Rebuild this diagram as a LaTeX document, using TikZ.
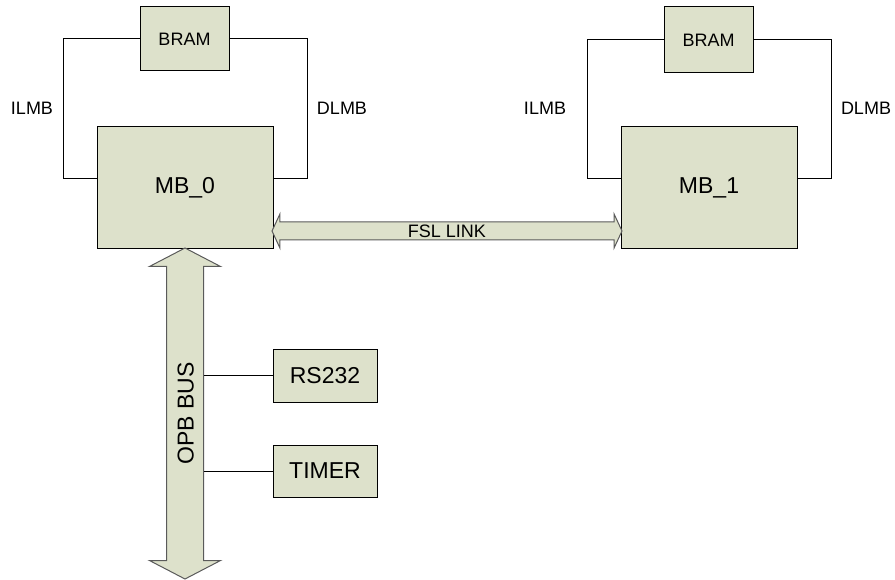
\documentclass[tikz,border=0pt]{standalone}
\usepackage{fontspec}
\setmainfont{Liberation Sans}
\usetikzlibrary{positioning,calc,shapes.arrows}
\definecolor{boxfill}{HTML}{DDE1CB}
\definecolor{busline}{HTML}{5A5A5A}
\tikzset{
    block/.style={
        draw, fill=boxfill, line width=1pt, inner sep=0pt,
        font=\fontsize{23}{27}\selectfont
    },
    smallblock/.style={
        block, font=\fontsize{18}{21}\selectfont
    },
    wire/.style={draw, line width=1pt},
    buslabel/.style={font=\fontsize{18}{21}\selectfont},
    fatbus/.style={
        double arrow, draw=busline, fill=boxfill, line width=1pt,
        double arrow head extend=17pt, double arrow tip angle=125,
        text height=17pt, text depth=0pt, inner ysep=9.5pt, inner xsep=0pt,
        font=\fontsize{23}{27}\selectfont
    },
    thinbus/.style={
        double arrow, draw=busline, fill=boxfill, line width=1pt,
        double arrow head extend=8pt, double arrow tip angle=130,
        text height=13pt, text depth=0pt, inner ysep=2pt, inner xsep=0pt,
        font=\fontsize{18}{21}\selectfont
    }
}
\begin{document}
\begin{tikzpicture}[x=1pt, y=-1pt]
    \useasboundingbox (0,0) rectangle (895,580);

    \node[block, minimum width=176pt, minimum height=122pt] (mb0) at (185,188) {MB\_0};
    \node[block, minimum width=176pt, minimum height=122pt] (mb1) at (709,188) {MB\_1};
    \node[smallblock, minimum width=89pt, minimum height=64pt] (bram0) at (184.5,39) {BRAM};
    \node[smallblock, minimum width=89pt, minimum height=66pt] (bram1) at (708.5,40) {BRAM};
    \node[block, minimum width=104pt, minimum height=53pt] (rs232) at (325,375.5) {RS232};
    \node[block, minimum width=104pt, minimum height=52pt] (timer) at (325,471) {TIMER};

    \coordinate (il0) at (63,179);
    \coordinate (dl0) at (307,179);
    \coordinate (il1) at (587,179);
    \coordinate (dl1) at (831,179);

    % local memory buses
    \draw[wire] (bram0.west) -| (il0) -- (il0 -| mb0.west);
    \draw[wire] (bram0.east) -| (dl0) -- (dl0 -| mb0.east);
    \draw[wire] (bram1.west) -| (il1) -- (il1 -| mb1.west);
    \draw[wire] (bram1.east) -| (dl1) -- (dl1 -| mb1.east);

    \node[buslabel] (ilmb0) at (32,108) {ILMB};
    \node[buslabel] (dlmb0) at (342,108) {DLMB};
    \node[buslabel] (ilmb1) at (545,108) {ILMB};
    \node[buslabel] (dlmb1) at (866,108) {DLMB};

    \node[thinbus, minimum height=350pt] (fsl)
        at ($(mb0.east)!0.5!(mb1.west)+(0,43)$) {FSL LINK};

    \node[fatbus, rotate=90, minimum height=331pt] (opb) at (185,413.5) {OPB BUS};

    \draw[wire] (opb.south |- rs232.west) -- (rs232.west);
    \draw[wire] (opb.south |- timer.west) -- (timer.west);
\end{tikzpicture}
\end{document}
